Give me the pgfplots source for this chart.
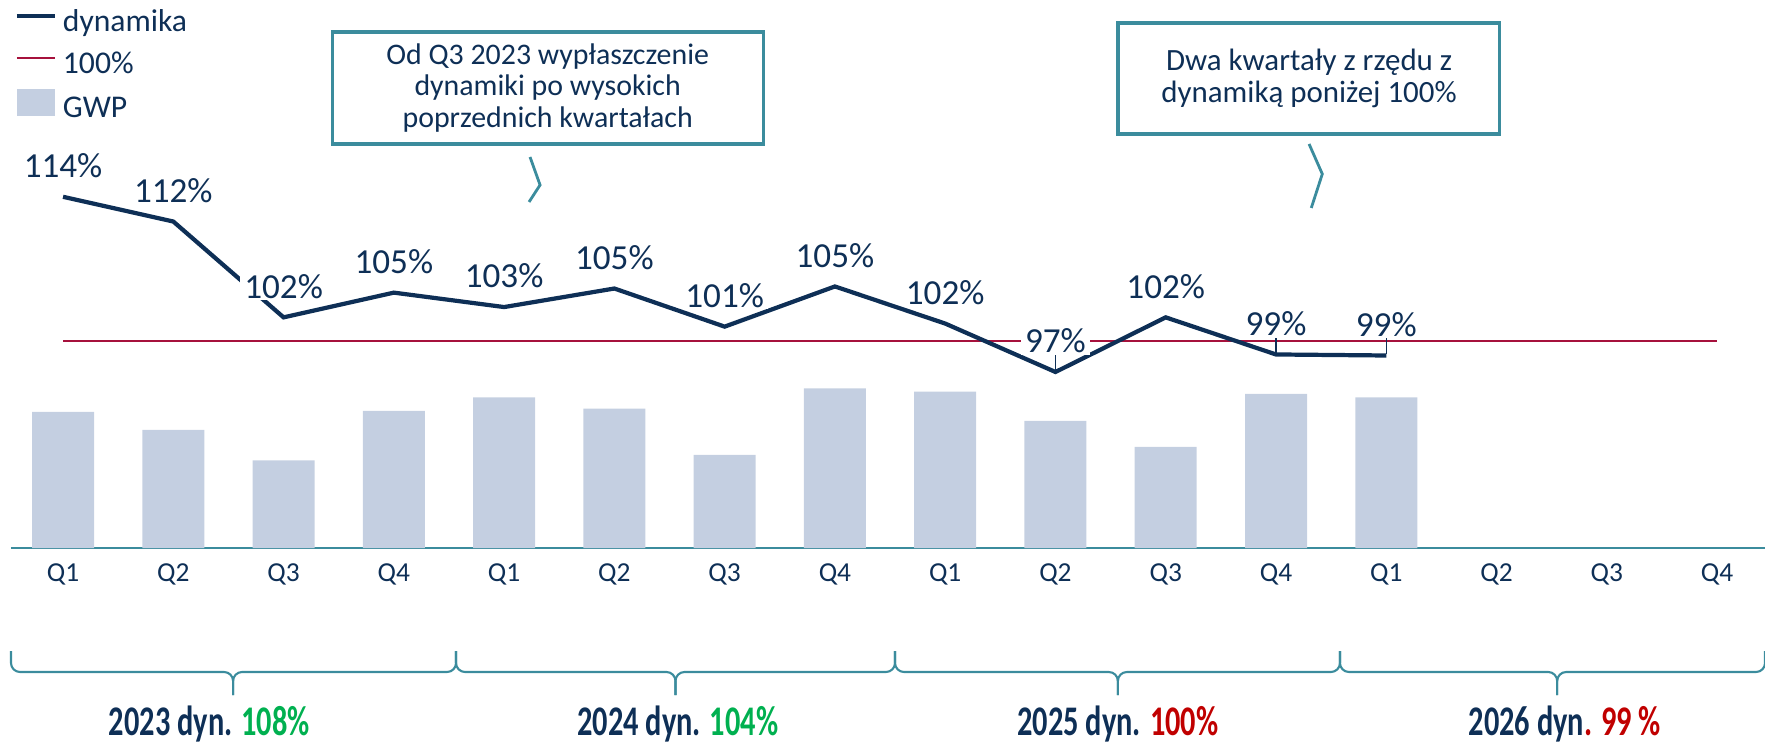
\documentclass[border=0pt]{standalone}
\usepackage{fontspec}
\setmainfont{Carlito}
\newfontfamily\condfont[FakeStretch=0.72]{Carlito}
\usepackage{pgfplots}
\pgfplotsset{compat=1.18}

\definecolor{navy}{RGB}{14,47,86}
\definecolor{redline}{RGB}{166,17,60}
\definecolor{barblue}{RGB}{196,207,225}
\definecolor{tealc}{RGB}{59,140,157}
\definecolor{goodgreen}{RGB}{0,176,80}
\definecolor{badred}{RGB}{192,0,0}

\pgfplotsset{
  shortline legend/.style={legend image code/.code={\draw[##1] (0mm,0.75mm) -- (3.8mm,0.75mm);}},
  shortbar legend/.style={legend image code/.code={\fill[##1] (0mm,-0.65mm) rectangle (3.8mm,2.05mm);}},
}

\newcommand{\yearbrace}[3]{%
  \draw (axis cs:#1,-102.8) -- (axis cs:#1,-123.8) -- (axis cs:#2,-123.8) -- (axis cs:#2,-146.8);
  \draw (axis cs:#3,-102.8) -- (axis cs:#3,-123.8) -- (axis cs:#2,-123.8) -- (axis cs:#2,-146.8);}

\begin{document}
\begin{tikzpicture}
\path[use as bounding box] (0,0) rectangle (176.5mm,74.5mm);

% bars (GWP), y in arbitrary units
\begin{axis}[
  at={(1.1mm,19.68mm)}, anchor=south west,
  scale only axis, width=175.4mm, height=54.82mm,
  xmin=-0.472, xmax=15.435, ymin=0, ymax=548.2,
  enlargelimits=false, clip=false,
  axis y line=none, axis x line*=bottom,
  x axis line style={tealc, line width=0.7pt, -},
  ytick=\empty,
  xtick={0,...,15},
  xticklabels={Q1,Q2,Q3,Q4,Q1,Q2,Q3,Q4,Q1,Q2,Q3,Q4,Q1,Q2,Q3,Q4},
  major tick length=0pt,
  xticklabel style={font=\fontsize{7.8}{9}\selectfont, text=navy,
    text height=1.8mm, inner sep=0pt, yshift=-1.5mm},
  ybar, bar width=6.2mm,
]
\addplot[fill=barblue, draw=none] coordinates {
  (0,136.2) (1,118.2) (2,87.8) (3,137.3) (4,150.8) (5,139.6) (6,93.4)
  (7,159.8) (8,156.5) (9,127.2) (10,101.3) (11,154.2) (12,150.8)};

% year braces
\begin{scope}[tealc, line width=0.6pt, rounded corners=0.9mm]
\yearbrace{-0.472}{1.542}{3.564}
\yearbrace{3.564}{5.554}{7.545}
\yearbrace{7.545}{9.566}{11.58}
\yearbrace{11.58}{13.55}{15.435}
\end{scope}
\begin{scope}[font=\condfont\bfseries\fontsize{12}{14}\selectfont, text=navy]
\node at (axis cs:1.327,-175.5) {2023 dyn. \textcolor{goodgreen}{108\%}};
\node at (axis cs:5.575,-175.5) {2024 dyn. \textcolor{goodgreen}{104\%}};
\node at (axis cs:9.566,-175.5) {2025 dyn. \textcolor{badred}{100\%}};
\node at (axis cs:13.62,-175.5) {2026 dyn\textcolor{badred}{. 99 \%}};
\end{scope}

% callouts
\draw[tealc, line width=0.9pt] (axis cs:2.44,516.2) rectangle (axis cs:6.35,404.2);
\node[align=center, text=navy, font=\fontsize{8.5}{8.9}\selectfont]
  at (axis cs:4.395,460.2) {Od Q3 2023 wypłaszczenie\\dynamiki po wysokich\\poprzednich kwartałach};
\draw[tealc, line width=0.8pt] (axis cs:4.235,391.2) -- (axis cs:4.326,363.2) -- (axis cs:4.226,346.2);
\draw[tealc, line width=0.9pt] (axis cs:9.567,525.2) rectangle (axis cs:13.03,414.2);
\node[align=center, text=navy, font=\fontsize{8.8}{9.3}\selectfont]
  at (axis cs:11.30,469.7) {Dwa kwartały z rzędu z\\dynamiką poniżej 100\%};
\draw[tealc, line width=0.8pt] (axis cs:11.30,404.2) -- (axis cs:11.42,374.2) -- (axis cs:11.32,340.2);
\end{axis}

% dynamics line, y in percent
\begin{axis}[
  at={(1.1mm,19.68mm)}, anchor=south west,
  scale only axis, width=175.4mm, height=54.82mm,
  xmin=-0.472, xmax=15.435, ymin=79.9, ymax=133.1,
  enlargelimits=false, clip=false, hide axis,
  legend cell align=left,
  legend style={draw=none, fill=none, inner sep=0pt, column sep=0.1mm, row sep=0.4mm,
    at={(0,1)}, anchor=north west, xshift=0.3mm, yshift=-0.4mm,
    font=\fontsize{9}{10}\selectfont, text=navy,
    nodes={text height=2.2mm, text depth=0.6mm, inner sep=0.5mm}},
]
\addlegendimage{navy, line width=1.2pt, shortline legend}
\addlegendentry{dynamika}
\addlegendimage{redline, line width=0.7pt, shortline legend}
\addlegendentry{100\%}
\addlegendimage{fill=barblue, draw=none, shortbar legend}
\addlegendentry{GWP}

\addplot[redline, line width=0.7pt, forget plot] coordinates {(0,100) (15,100)};
\addplot[navy, line width=1.2pt, forget plot,
  nodes near coords, point meta=explicit symbolic,
  every node near coord/.append style={anchor=center, yshift=3.1mm, fill=white,
    inner xsep=0.4mm, inner ysep=0.15mm, font=\fontsize{10}{12}\selectfont, text=navy}]
  coordinates {
  (0,114.0)[114\%] (1,111.6)[112\%] (2,102.3)[102\%] (3,104.7)[105\%]
  (4,103.3)[103\%] (5,105.1)[105\%] (6,101.4)[101\%] (7,105.3)[105\%]
  (8,101.7)[102\%] (9,97.0)[97\%] (10,102.3)[102\%] (11,98.7)[99\%]
  (12,98.6)[99\%]};
\draw[navy, line width=0.4pt] (axis cs:9,97.2) -- (axis cs:9,98.8);
\draw[navy, line width=0.4pt] (axis cs:11,98.8) -- (axis cs:11,100.3);
\draw[navy, line width=0.4pt] (axis cs:12,98.7) -- (axis cs:12,100.3);
\end{axis}
\end{tikzpicture}
\end{document}
